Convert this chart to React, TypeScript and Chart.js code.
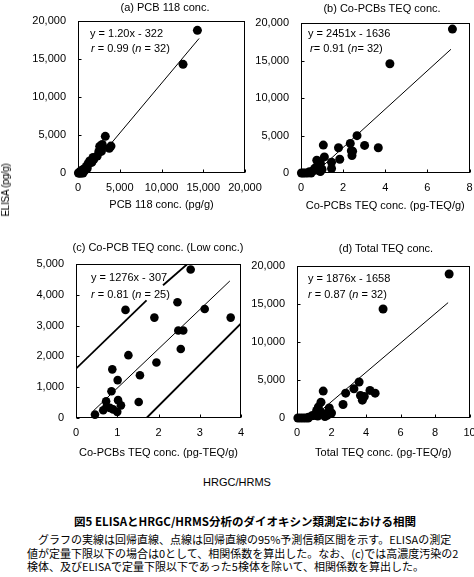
import React, { useEffect, useRef } from "react";
import { Chart, registerables } from "chart.js";

Chart.register(...registerables);

const FONT = '"Liberation Sans", Arial, sans-serif';
const JP = '"Noto Sans CJK JP", "Noto Sans", sans-serif';

// ---------- (a) PCB 118 conc. (pg/g) vs ELISA (pg/g) ----------
const aPcb118 = [14300, 12580, 3270, 2900, 3950, 2600, 3750, 2750, 2500, 2800, 2300, 1800, 1900, 1400, 1650, 1200, 1000, 1100, 700, 900, 600, 500, 800, 450, 300, 350, 200, 50, 150, 250, 400, 600];
const aElisa = [18770, 14300, 4820, 3760, 3540, 3510, 3260, 3260, 2840, 2840, 2240, 2040, 1800, 1580, 1390, 1230, 870, 580, 540, 520, 410, 360, 330, 280, 250, 200, 110, 0, 0, 0, 0, 0];
const aFitX = [1000, 14500];
const aFitY = [0, 17700];

// ---------- (b) Co-PCBs TEQ conc. (pg-TEQ/g) vs ELISA ----------
const bCoPcb = [7.19, 4.22, 2.66, 2.34, 1.06, 3.02, 3.67, 1.78, 2.39, 2.45, 2.42, 1.11, 1.84, 0.75, 1.45, 0.92, 0.78, 1.45, 0.65, 0.95, 1.0, 0.65, 0.82, 0.58, 0.92, 0.92, 0.4, 0.02, 0.1, 0.2, 0.32, 0.48];
const bElisa = [19190, 14570, 4980, 3950, 3720, 3680, 3360, 3360, 2960, 2900, 2330, 2150, 1840, 1700, 1450, 1300, 950, 600, 620, 650, 480, 420, 350, 300, 280, 190, 180, 0, 0, 0, 0, 0];
const bFitX = [0.67, 7.12];
const bFitY = [0, 16500];

// ---------- (c) Co-PCB TEQ conc. (Low conc.) ----------
const cCoPcb = [2.78, 2.46, 1.2, 3.12, 3.75, 1.9, 2.48, 2.6, 2.54, 1.27, 1.95, 0.88, 1.55, 1.01, 0.86, 1.52, 0.73, 1.02, 1.09, 0.74, 0.9, 0.66, 1.0, 0.46, 0.82];
const cElisa = [4820, 3760, 3510, 3540, 3260, 3260, 2840, 2840, 2240, 2040, 1800, 1580, 1390, 1230, 870, 520, 540, 580, 410, 360, 280, 250, 200, 110, 330];
const cFitX = [0.42, 3.73];
const cFitY = [230, 4450];
const cUpperAX = [0, 1.71];
const cUpperAY = [1600, 3820];
const cUpperBX = [2.11, 2.7];
const cUpperBY = [4310, 5000];
const cLowerX = [1.71, 4.0];
const cLowerY = [0, 3070];

// ---------- (d) Total TEQ conc. (pg-TEQ/g) vs ELISA ----------
const dTotal = [8.82, 4.99, 3.6, 3.3, 4.23, 1.52, 4.53, 2.82, 3.68, 3.9, 3.79, 1.39, 2.67, 1.24, 1.87, 1.14, 1.3, 2.0, 1.43, 1.6, 1.05, 1.75, 0.95, 0.86, 1.2, 1.62, 0.67, 0.05, 0.2, 0.35, 0.5, 0.65];
const dElisa = [18940, 14340, 4730, 3850, 3630, 3540, 3270, 3270, 2960, 2830, 2350, 2080, 1770, 1460, 1330, 1000, 870, 660, 660, 520, 410, 360, 330, 280, 250, 200, 110, 0, 0, 0, 0, 0];
const dFitX = [0.88, 8.76];
const dFitY = [0, 15180];

// ---------- axis ranges ----------
const aXTicks = { min: 0, max: 20000, step: 5000 };
const bXTicks = { min: 0, max: 8, step: 2 };
const cXTicks = { min: 0, max: 4, step: 1 };
const dXTicks = { min: 0, max: 10, step: 2 };
const bigYTicks = { min: 0, max: 20000, step: 5000 };
const cYTicks = { min: 0, max: 5000, step: 1000 };

const zip = (xs: number[], ys: number[]) => xs.map((x, i) => ({ x, y: ys[i] }));

type LineSpec = { xs: number[]; ys: number[]; width: number };
type PanelSpec = {
  left: number; top: number; w: number; h: number;
  plot: { l: number; t: number; r: number; b: number };
  xr: { min: number; max: number; step: number };
  yr: { min: number; max: number; step: number };
  xTitle: string; xTitleY: number;
  px: number[]; py: number[]; radius: number;
  lines: LineSpec[];
};

const framePlugin = {
  id: "frameTicks",
  beforeDatasetsDraw(chart: any) {
    const { ctx, chartArea: a, scales } = chart;
    ctx.save();
    ctx.strokeStyle = "#000";
    ctx.lineWidth = 1;
    const L = Math.round(a.left) + 0.5;
    const T = Math.round(a.top) + 0.5;
    const R = Math.round(a.right) - 0.5;
    const B = Math.round(a.bottom) - 0.5;
    ctx.strokeRect(L, T, R - L, B - T);
    ctx.beginPath();
    const len = 3;
    scales.x.ticks.forEach((t: any) => {
      const p = Math.round(scales.x.getPixelForValue(t.value)) + 0.5;
      ctx.moveTo(p, B);
      ctx.lineTo(p, B - len);
    });
    scales.y.ticks.forEach((t: any) => {
      const p = Math.round(scales.y.getPixelForValue(t.value)) + 0.5;
      ctx.moveTo(L, p);
      ctx.lineTo(L + len, p);
    });
    ctx.stroke();
    ctx.restore();
  },
};

const fmt = (v: any) => Number(v).toLocaleString("en-US");

function buildConfig(s: PanelSpec): any {
  const yAxisW = s.plot.l - s.left;
  const padTop = s.plot.t - s.top;
  const padRight = s.left + s.w - s.plot.r;
  const xAxisH = s.top + s.h - s.plot.b;
  const lh = 11 * 1.2;
  const titleBottom = Math.max(0, s.top + s.h - s.xTitleY - lh / 2);
  const tickFont = { family: FONT, size: 11 };
  const datasets: any[] = s.lines.map((ln) => ({
    data: zip(ln.xs, ln.ys),
    showLine: true,
    borderColor: "#000",
    borderWidth: ln.width,
    pointRadius: 0,
    fill: false,
    order: 1,
  }));
  datasets.push({
    data: zip(s.px, s.py),
    backgroundColor: "#000",
    borderColor: "#000",
    borderWidth: 0,
    pointRadius: s.radius,
    clip: false,
    order: 2,
  });
  return {
    type: "scatter",
    data: { datasets },
    options: {
      animation: false,
      responsive: false,
      maintainAspectRatio: false,
      events: [],
      layout: { padding: { top: padTop, right: padRight, left: 0, bottom: 0 } },
      plugins: { legend: { display: false }, tooltip: { enabled: false }, title: { display: false } },
      scales: {
        x: {
          type: "linear",
          position: "bottom",
          min: s.xr.min,
          max: s.xr.max,
          ticks: { stepSize: s.xr.step, autoSkip: false, maxRotation: 0, padding: 8, color: "#000", font: tickFont, callback: fmt },
          grid: { display: false, drawTicks: false },
          border: { display: false },
          title: { display: true, text: s.xTitle, color: "#000", font: tickFont, padding: { top: 0, bottom: titleBottom } },
          afterFit: (sc: any) => {
            sc.height = xAxisH;
            sc.paddingLeft = 0;
            sc.paddingRight = 0;
          },
        },
        y: {
          type: "linear",
          position: "left",
          min: s.yr.min,
          max: s.yr.max,
          ticks: { stepSize: s.yr.step, autoSkip: false, padding: 12, color: "#000", font: tickFont, callback: fmt },
          grid: { display: false, drawTicks: false },
          border: { display: false },
          afterFit: (sc: any) => {
            sc.width = yAxisW;
            sc.paddingTop = 0;
            sc.paddingBottom = 0;
          },
        },
      },
    },
    plugins: [framePlugin],
  };
}

function Panel({ spec }: { spec: PanelSpec }) {
  const ref = useRef<HTMLCanvasElement>(null);
  useEffect(() => {
    const chart = new Chart(ref.current as HTMLCanvasElement, buildConfig(spec));
    return () => chart.destroy();
  }, []);
  return (
    <canvas
      ref={ref}
      width={spec.w}
      height={spec.h}
      style={{ position: "absolute", left: spec.left, top: spec.top, width: spec.w, height: spec.h }}
    />
  );
}

function Centered({ x, y, children, style }: any) {
  return (
    <div
      style={{
        position: "absolute",
        left: x,
        top: y,
        transform: "translate(-50%, -50%)",
        whiteSpace: "nowrap",
        lineHeight: 1,
        ...style,
      }}
    >
      {children}
    </div>
  );
}

function Note({ x, y, children }: any) {
  return (
    <div style={{ position: "absolute", left: x, top: y - 7, height: 14, lineHeight: "14px", whiteSpace: "nowrap", fontSize: 11, fontFamily: FONT }}>
      {children}
    </div>
  );
}

const panelA: PanelSpec = {
  left: 0, top: 0, w: 272, h: 215,
  plot: { l: 78, t: 21, r: 245, b: 173 },
  xr: aXTicks, yr: bigYTicks,
  xTitle: "PCB 118 conc. (pg/g)", xTitleY: 205,
  px: aPcb118, py: aElisa, radius: 4.5,
  lines: [{ xs: aFitX, ys: aFitY, width: 1 }],
};
const panelB: PanelSpec = {
  left: 250, top: 0, w: 224, h: 215,
  plot: { l: 301, t: 23, r: 473, b: 173 },
  xr: bXTicks, yr: bigYTicks,
  xTitle: "Co-PCBs TEQ conc. (pg-TEQ/g)", xTitleY: 206,
  px: bCoPcb, py: bElisa, radius: 4.5,
  lines: [{ xs: bFitX, ys: bFitY, width: 1 }],
};
const panelC: PanelSpec = {
  left: 0, top: 235, w: 250, h: 225,
  plot: { l: 76, t: 264, r: 241, b: 418 },
  xr: cXTicks, yr: cYTicks,
  xTitle: "Co-PCBs TEQ conc. (pg-TEQ/g)", xTitleY: 453,
  px: cCoPcb, py: cElisa, radius: 4.3,
  lines: [
    { xs: cFitX, ys: cFitY, width: 1 },
    { xs: cUpperAX, ys: cUpperAY, width: 1.8 },
    { xs: cUpperBX, ys: cUpperBY, width: 1.8 },
    { xs: cLowerX, ys: cLowerY, width: 1.8 },
  ],
};
const panelD: PanelSpec = {
  left: 250, top: 235, w: 224, h: 225,
  plot: { l: 297, t: 266, r: 470, b: 418 },
  xr: dXTicks, yr: bigYTicks,
  xTitle: "Total TEQ conc. (pg-TEQ/g)", xTitleY: 453,
  px: dTotal, py: dElisa, radius: 4.5,
  lines: [{ xs: dFitX, ys: dFitY, width: 1 }],
};

export default function App() {
  const base = { fontFamily: FONT, fontSize: 11, color: "#000" };
  return (
    <div style={{ position: "absolute", left: 0, top: 0, width: 474, height: 577, background: "#fff", overflow: "hidden", ...base }}>
      <Panel spec={panelA} />
      <Panel spec={panelB} />
      <Panel spec={panelC} />
      <Panel spec={panelD} />

      <Centered x={165} y={7}>(a) PCB 118 conc.</Centered>
      <Centered x={382} y={8}>(b) Co-PCBs TEQ conc.</Centered>
      <Centered x={158} y={247}>(c) Co-PCB TEQ conc. (Low conc.)</Centered>
      <Centered x={386} y={248}>(d) Total TEQ conc.</Centered>

      <Note x={90} y={33}>y = 1.20x - 322</Note>
      <Note x={91} y={48}><i>r</i> = 0.99 (<i>n</i> = 32)</Note>
      <Note x={308} y={33}>y = 2451x - 1636</Note>
      <Note x={310} y={48}><i>r</i>= 0.91 (<i>n</i>= 32)</Note>
      <Note x={91} y={277}>y = 1276x - 307</Note>
      <Note x={91} y={294}><i>r</i> = 0.81 (<i>n</i> = 25)</Note>
      <Note x={308} y={278}>y = 1876x - 1658</Note>
      <Note x={308} y={294}><i>r</i> = 0.87 (<i>n</i> = 32)</Note>

      <Centered x={6} y={190} style={{ transform: "translate(-50%, -50%) rotate(-90deg)", fontSize: 10, letterSpacing: "-0.3px" }}>ELISA (pg/g)</Centered>
      <Centered x={237} y={482}>HRGC/HRMS</Centered>

      <Centered x={245} y={522} style={{ fontFamily: JP, fontWeight: 700, fontSize: 11.5 }}>
        図5 ELISAとHRGC/HRMS分析のダイオキシン類測定における相関
      </Centered>
      <div style={{ position: "absolute", left: 27, top: 533, fontFamily: JP, fontSize: 11, lineHeight: "13.5px", whiteSpace: "nowrap" }}>
        <div>　グラフの実線は回帰直線、点線は回帰直線の95%予測信頼区間を示す。ELISAの測定</div>
        <div>値が定量下限以下の場合は0として、相関係数を算出した。なお、(c)では高濃度汚染の2</div>
        <div>検体、及びELISAで定量下限以下であった5検体を除いて、相関係数を算出した。</div>
      </div>
    </div>
  );
}
